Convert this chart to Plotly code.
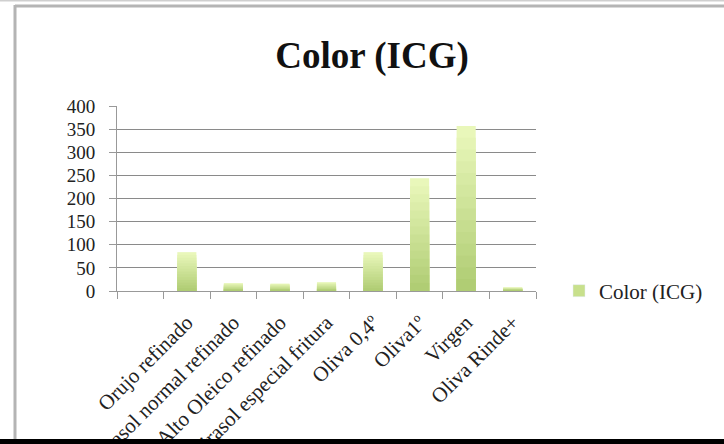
import plotly.graph_objects as go

# Colour index per oil type
categories = [" ", "Orujo refinado", "Girasol normal refinado", "Girasol Alto Oleico refinado",
              "Girasol especial fritura", "Oliva 0,4º", "Oliva1º", "Virgen", "Oliva Rinde+"]
color_icg = [None, 84, 17, 16, 19, 84, 244, 357, 8]
y_ticks = [0, 50, 100, 150, 200, 250, 300, 350, 400]
series_name = "Color (ICG)"

W, H = 724, 444
L, R, T, B = 117, 536, 106, 291  # plot area in pixels

def px_x(p):
    return (p - L) / (R - L)

def px_y(p):
    return (B - p) / (B - T)

# vertical gradient: stack of overlaid bars, light at top, darker toward the base
top_rgb = (233, 247, 186)
bot_rgb = (176, 205, 116)
steps = 14
fig = go.Figure()
for i in range(steps):
    frac = 1 - i / steps
    t = i / (steps - 1)
    rgb = tuple(round(a + (b - a) * t) for a, b in zip(top_rgb, bot_rgb))
    vals = [None if v is None else v * frac for v in color_icg]
    fig.add_trace(go.Bar(
        x=categories, y=vals, name=series_name,
        marker=dict(color="rgb(%d,%d,%d)" % rgb, line=dict(width=0)),
        showlegend=False, hoverinfo="skip" if i else None,
    ))
# legend entry
fig.add_trace(go.Bar(x=[categories[0]], y=[None], name=series_name,
                     marker=dict(color="rgb(200,224,140)"), showlegend=True))

serif = "Liberation Serif, DejaVu Serif, serif"
fig.update_layout(
    width=W, height=H,
    margin=dict(l=L, r=W - R, t=T, b=H - B, pad=0),
    paper_bgcolor="white", plot_bgcolor="white",
    barmode="overlay", bargap=0.59,
    title=dict(text="<b>Color (ICG)</b>", x=px_x(372), xref="paper", xanchor="center",
               y=1 - 55 / H, yanchor="middle",
               font=dict(family=serif, size=37, color="#111")),
    font=dict(family=serif, size=16, color="#222"),
    legend=dict(x=px_x(559), y=0, xanchor="left", yanchor="middle",
                font=dict(family=serif, size=21, color="#222"),
                itemwidth=30, bgcolor="rgba(0,0,0,0)", traceorder="normal"),
    xaxis=dict(type="category", categoryorder="array", categoryarray=categories,
               tickangle=-45, tickson="boundaries", ticks="outside", ticklen=7,
               tickcolor="#999", showline=True, linecolor="#999", linewidth=1,
               showgrid=False, automargin=False, ticklabelstandoff=10,
               tickfont=dict(family=serif, size=21, color="#222"),
               range=[-0.5, len(categories) - 0.5]),
    yaxis=dict(range=[0, 400], tickvals=y_ticks, ticks="outside", ticklen=7,
               tickcolor="#999", showline=True, linecolor="#999", linewidth=1,
               showgrid=True, gridcolor="#8a8a8a", gridwidth=1, zeroline=False,
               automargin=False, ticklabelstandoff=10,
               tickfont=dict(family=serif, size=19, color="#222")),
    shapes=[
        # frame around the chart
        dict(type="line", xref="paper", yref="paper", x0=px_x(15), x1=px_x(W + 5),
             y0=px_y(6), y1=px_y(6), line=dict(color="#b4b4b4", width=3)),
        dict(type="line", xref="paper", yref="paper", x0=px_x(15), x1=px_x(15),
             y0=px_y(5), y1=px_y(H), line=dict(color="#b4b4b4", width=3)),
        dict(type="line", xref="paper", yref="paper", x0=px_x(0), x1=px_x(W),
             y0=px_y(0.5), y1=px_y(0.5), line=dict(color="#cfcfcf", width=2)),
        # dark band at the bottom edge
        dict(type="rect", xref="paper", yref="paper", x0=px_x(0), x1=px_x(W),
             y0=px_y(439), y1=px_y(H + 2), fillcolor="black", line=dict(width=0)),
    ],
)

fig.write_html("out.html")
